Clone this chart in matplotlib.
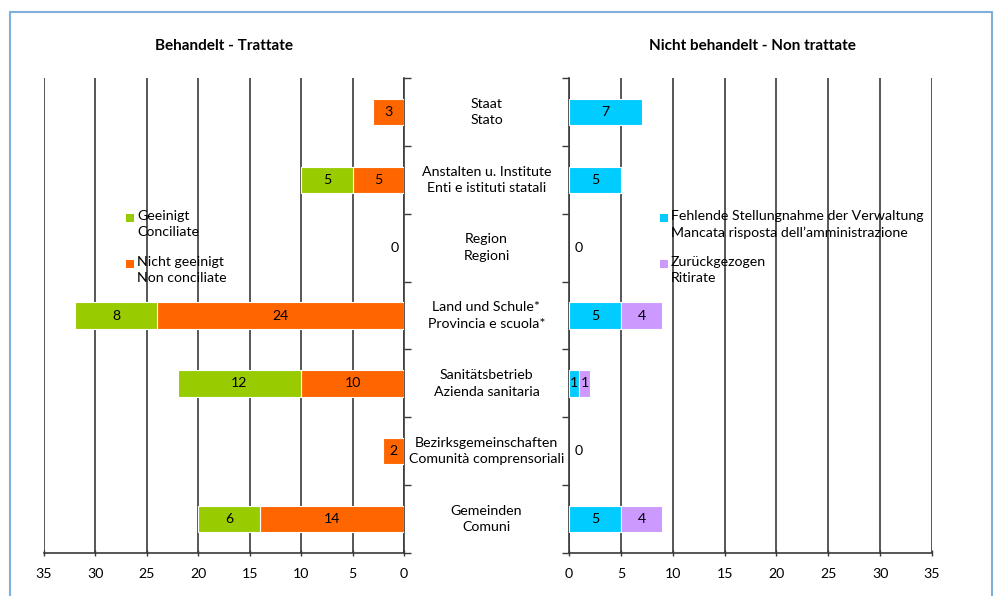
import matplotlib.pyplot as plt
import matplotlib.transforms as mtransforms
from matplotlib.patches import Rectangle

plt.rcParams['font.family'] = ['Lato', 'DejaVu Sans']
plt.rcParams['font.size'] = 10.2

# Daten
kategorien = ['Staat\nStato',
              'Anstalten u. Institute\nEnti e istituti statali',
              'Region\nRegioni',
              'Land und Schule*\nProvincia e scuola*',
              'Sanitätsbetrieb\nAzienda sanitaria',
              'Bezirksgemeinschaften\nComunità comprensoriali',
              'Gemeinden\nComuni']
nicht_geeinigt = [3, 5, 0, 24, 10, 2, 14]
geeinigt = [0, 5, 0, 8, 12, 0, 6]
fehlende = [7, 5, 0, 5, 1, 0, 5]
zurueck = [0, 0, 0, 4, 1, 0, 4]
ticks_x = [0, 5, 10, 15, 20, 25, 30, 35]

c_gruen = '#99CC00'
c_orange = '#FF6600'
c_cyan = '#00CCFF'
c_lila = '#CC99FF'
c_grid = '#3a3a3a'

fig = plt.figure(figsize=(9.95, 5.96), dpi=100)
ax_l = fig.add_axes([44/995, 1-553/596, 360/995, 475/596])
ax_r = fig.add_axes([569/995, 1-553/596, 363/995, 475/596])

y = list(range(len(kategorien)))
h = 0.39


def balken(ax, werte, links, farbe):
    # nur Werte > 0 zeichnen, sonst entsteht ein weisser Strich auf der Achse
    idx = [i for i in y if werte[i] > 0]
    ax.barh([y[i] for i in idx], [werte[i] for i in idx], height=h,
            left=[links[i] for i in idx], color=farbe, edgecolor='white',
            linewidth=0.8, zorder=3)
    for i in idx:
        ax.text(links[i] + werte[i]/2, i, str(werte[i]), ha='center', va='center', zorder=4)


null = [0] * len(kategorien)
balken(ax_l, nicht_geeinigt, null, c_orange)
balken(ax_l, geeinigt, nicht_geeinigt, c_gruen)
balken(ax_r, fehlende, null, c_cyan)
balken(ax_r, zurueck, fehlende, c_lila)

for i in y:
    if nicht_geeinigt[i] + geeinigt[i] == 0:
        ax_l.text(0.5, i, '0', ha='right', va='center')
    if fehlende[i] + zurueck[i] == 0:
        ax_r.text(0.5, i, '0', ha='left', va='center')

for ax in (ax_l, ax_r):
    ax.set_ylim(len(kategorien) - 0.5, -0.5)
    ax.set_xticks(ticks_x)
    ax.set_yticks([i - 0.5 for i in range(len(kategorien) + 1)])
    ax.set_yticklabels([])
    ax.spines['top'].set_visible(False)
    ax.grid(axis='x', color=c_grid, linewidth=1.2, zorder=0)
    ax.tick_params(axis='x', direction='inout', length=5, width=1, color=c_grid, pad=8)
    ax.tick_params(axis='y', direction='out', length=5, width=1, color=c_grid)
    for s in ax.spines.values():
        s.set_color(c_grid)
        s.set_linewidth(1.2)

ax_l.set_xlim(35, 0)
ax_l.spines['left'].set_visible(False)
ax_l.yaxis.tick_right()
ax_r.set_xlim(0, 35)
ax_r.spines['right'].set_visible(False)

# Kategorien in der Mitte
trans = mtransforms.blended_transform_factory(fig.transFigure, ax_l.transData)
for i, k in enumerate(kategorien):
    fig.text(486.5/995, i, k, transform=trans, ha='center', va='center', linespacing=1.45)

# Titel
fig.text(224/995, 1-46/596, 'Behandelt - Trattate', ha='center', va='center', fontsize=11, fontweight='bold')
fig.text(752/995, 1-46/596, 'Nicht behandelt - Non trattate', ha='center', va='center', fontsize=11, fontweight='bold')


# Legenden
def legende(x, y0, farbe, text):
    fig.patches.append(Rectangle((x/995, 1-(y0+12)/596), 8/995, 8/596, transform=fig.transFigure,
                                 facecolor=farbe, edgecolor='none', figure=fig))
    fig.text((x+11)/995, 1-y0/596, text, ha='left', va='top', linespacing=1.45)


legende(126, 210, c_gruen, 'Geeinigt\nConciliate')
legende(126, 256, c_orange, 'Nicht geeinigt\nNon conciliate')
legende(660, 210, c_cyan, 'Fehlende Stellungnahme der Verwaltung\nMancata risposta dell\u2019amministrazione')
legende(660, 256, c_lila, 'Zurückgezogen\nRitirate')

# Rahmen
fig.patches.append(Rectangle((10/995, -0.05), 982/995, 1.05 - 12/596, transform=fig.transFigure,
                             facecolor='none', edgecolor='#7fb0dc', linewidth=1.5, figure=fig))

fig.savefig('out.png', dpi=100)
